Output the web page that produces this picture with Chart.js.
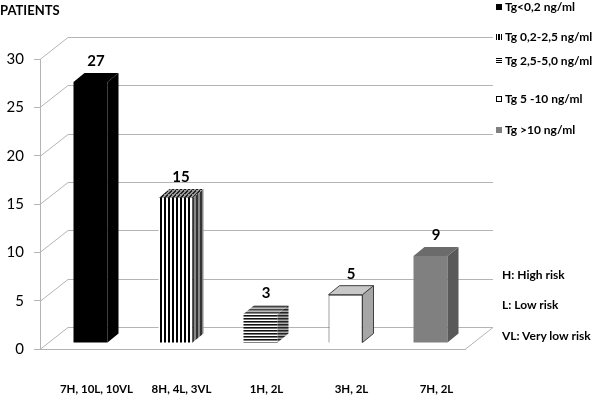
<!DOCTYPE html>
<html>
<head>
<meta charset="utf-8">
<script src="https://cdn.jsdelivr.net/npm/chart.js@4.4.1/dist/chart.umd.min.js"></script>
<style>
  html, body { margin: 0; padding: 0; background: #fff; }
  #wrap { position: relative; width: 596px; height: 395px; font-family: Lato, "Open Sans", sans-serif; }
  #chart { position: absolute; left: 0; top: 0; }
  .title { position: absolute; left: 0; top: 2px; font-weight: bold; font-size: 13px; color: #000; }
  .legend-item, .note { position: absolute; left: 496px; font-weight: bold; font-size: 12px; color: #000; white-space: nowrap; line-height: 14px; }
  .note { left: 502px; }
  .sw { display: inline-block; width: 6px; height: 6px; margin-right: 3px; vertical-align: 1px; box-sizing: border-box; }
</style>
</head>
<body>
<div id="wrap">
  <canvas id="chart" width="596" height="395"></canvas>
  <div class="title">PATIENTS</div>
  <div id="legend"></div>
</div>
<script>
// Werte aus dem Bild
const categories = ['7H, 10L, 10VL', '8H, 4L, 3VL', '1H, 2L', '3H, 2L', '7H, 2L'];
const patients = [27, 15, 3, 5, 9];
const tgGroups = ['Tg<0,2 ng/ml', 'Tg 0,2-2,5 ng/ml', 'Tg 2,5-5,0 ng/ml', 'Tg 5 -10 ng/ml', 'Tg >10 ng/ml'];
const riskNotes = ['H: High risk', 'L: Low risk', 'VL: Very low risk'];
const yMin = 0, yMax = 30, yStep = 5;

// 3D-Geometrie
const WALL_DX = 28, WALL_DY = -22;
const SHIFT_X = 8, SHIFT_Y = -6;
const BAR_DX = 11, BAR_DY = -9;
const LINE_COLOR = '#b4b4b4';

function makePattern(w, h, draw) {
  const c = document.createElement('canvas');
  c.width = w; c.height = h;
  const g = c.getContext('2d');
  draw(g);
  return c.getContext('2d').createPattern(c, 'repeat');
}

const vStripes = (a, b) => makePattern(4, 4, g => { g.fillStyle = b; g.fillRect(0, 0, 4, 4); g.fillStyle = a; g.fillRect(0, 0, 2, 4); });
const hStripes = (a, m, b) => makePattern(3, 3, g => { g.fillStyle = b; g.fillRect(0, 0, 3, 3); g.fillStyle = a; g.fillRect(0, 0, 3, 1); g.fillStyle = m; g.fillRect(0, 1, 3, 1); });
const dStripes = (a, b) => makePattern(4, 4, g => {
  g.fillStyle = b; g.fillRect(0, 0, 4, 4); g.fillStyle = a;
  for (let i = 0; i < 4; i++) g.fillRect(i % 4, 3 - i, 2, 1);
});

const frontFill = ['#000000', vStripes('#000', '#fff'), hStripes('#111', '#777', '#fff'), '#ffffff', '#808080'];
const sideFill = ['#000000', vStripes('#333', '#888'), hStripes('#222', '#666', '#aaa'), '#a6a6a6', '#595959'];
const topFill = ['#000000', dStripes('#222', '#999'), hStripes('#444', '#888', '#bbb'), '#c8c8c8', '#6b6b6b'];
const edgeColor = [null, null, null, '#404040', null];

// Legende
const legendTops = [0, 30, 54, 92, 123];
const swatchCss = [
  'background:#000',
  'background:repeating-linear-gradient(90deg,#000 0 1px,#fff 1px 2.5px)',
  'background:repeating-linear-gradient(180deg,#000 0 1px,#fff 1px 2px)',
  'background:#fff;border:1px solid #000',
  'background:#808080'
];
const legend = document.getElementById('legend');
tgGroups.forEach((t, i) => {
  const d = document.createElement('div');
  d.className = 'legend-item';
  d.style.top = legendTops[i] + 'px';
  d.innerHTML = '<span class="sw" style="' + swatchCss[i] + '"></span>' + t;
  legend.appendChild(d);
});
const noteTops = [268, 298, 329];
riskNotes.forEach((t, i) => {
  const d = document.createElement('div');
  d.className = 'note';
  d.style.top = noteTops[i] + 'px';
  d.textContent = t;
  legend.appendChild(d);
});

function poly(ctx, pts, fill, stroke) {
  ctx.beginPath();
  ctx.moveTo(pts[0][0], pts[0][1]);
  for (let i = 1; i < pts.length; i++) ctx.lineTo(pts[i][0], pts[i][1]);
  ctx.closePath();
  ctx.fillStyle = fill;
  ctx.fill();
  if (stroke) { ctx.strokeStyle = stroke; ctx.lineWidth = 1; ctx.stroke(); }
}

const threeD = {
  id: 'threeD',
  beforeDatasetsDraw(chart) {
    const { ctx, chartArea: a, scales: { y } } = chart;
    ctx.save();
    ctx.strokeStyle = LINE_COLOR;
    ctx.lineWidth = 1;
    y.ticks.forEach(t => {
      const py = Math.round(y.getPixelForValue(t.value)) + 0.5;
      ctx.beginPath();
      ctx.moveTo(a.left, py);
      ctx.lineTo(a.left + WALL_DX, py + WALL_DY);
      ctx.lineTo(a.right + WALL_DX, py + WALL_DY);
      ctx.stroke();
    });
    const pb = Math.round(y.getPixelForValue(yMin)) + 0.5;
    ctx.beginPath();
    ctx.moveTo(a.right, pb);
    ctx.lineTo(a.right + WALL_DX, pb + WALL_DY);
    ctx.stroke();
    ctx.restore();
    ctx.save();
    ctx.translate(SHIFT_X, SHIFT_Y);
  },
  afterDatasetsDraw(chart) {
    const { ctx } = chart;
    const meta = chart.getDatasetMeta(0);
    meta.data.forEach((el, i) => {
      const p = el.getProps(['x', 'y', 'base', 'width'], true);
      const l = p.x - p.width / 2, r = p.x + p.width / 2, t = p.y, b = p.base;
      poly(ctx, [[r, t], [r + BAR_DX, t + BAR_DY], [r + BAR_DX, b + BAR_DY], [r, b]], sideFill[i], edgeColor[i]);
      poly(ctx, [[l, t], [l + BAR_DX, t + BAR_DY], [r + BAR_DX, t + BAR_DY], [r, t]], topFill[i], edgeColor[i]);
    });
    ctx.restore();
    ctx.save();
    ctx.fillStyle = '#000';
    ctx.font = 'bold 15px Lato, sans-serif';
    ctx.textAlign = 'center';
    ctx.textBaseline = 'bottom';
    meta.data.forEach((el, i) => {
      ctx.fillText(String(patients[i]), el.x + SHIFT_X + BAR_DX / 2, el.y + SHIFT_Y + BAR_DY - 4);
    });
    ctx.restore();
  }
};

new Chart(document.getElementById('chart'), {
  type: 'bar',
  data: {
    labels: categories,
    datasets: [{
      data: patients,
      backgroundColor: frontFill,
      borderColor: edgeColor.map(c => c || 'rgba(0,0,0,0)'),
      borderWidth: edgeColor.map(c => c ? 1 : 0),
      barPercentage: 0.4,
      categoryPercentage: 1
    }]
  },
  options: {
    responsive: false,
    animation: false,
    layout: { padding: { left: 7, right: 131, top: 59, bottom: 0 } },
    plugins: { legend: { display: false }, tooltip: { enabled: false } },
    scales: {
      x: {
        grid: { display: false, drawTicks: false },
        border: { display: true, color: LINE_COLOR },
        afterFit(s) { s.height = 46; },
        ticks: {
          color: '#000',
          font: { family: 'Lato', size: 11.5, weight: 'bold' },
          padding: 33,
          labelOffset: 14,
          maxRotation: 0,
          autoSkip: false
        }
      },
      y: {
        min: yMin,
        max: yMax,
        grid: { drawOnChartArea: false, drawTicks: true, tickLength: 6, color: LINE_COLOR },
        border: { display: true, color: LINE_COLOR },
        afterFit(s) { s.width = 33; },
        ticks: {
          stepSize: yStep,
          color: '#000',
          font: { family: 'Lato', size: 15 },
          padding: 10
        }
      }
    }
  },
  plugins: [threeD]
});
</script>
</body>
</html>
